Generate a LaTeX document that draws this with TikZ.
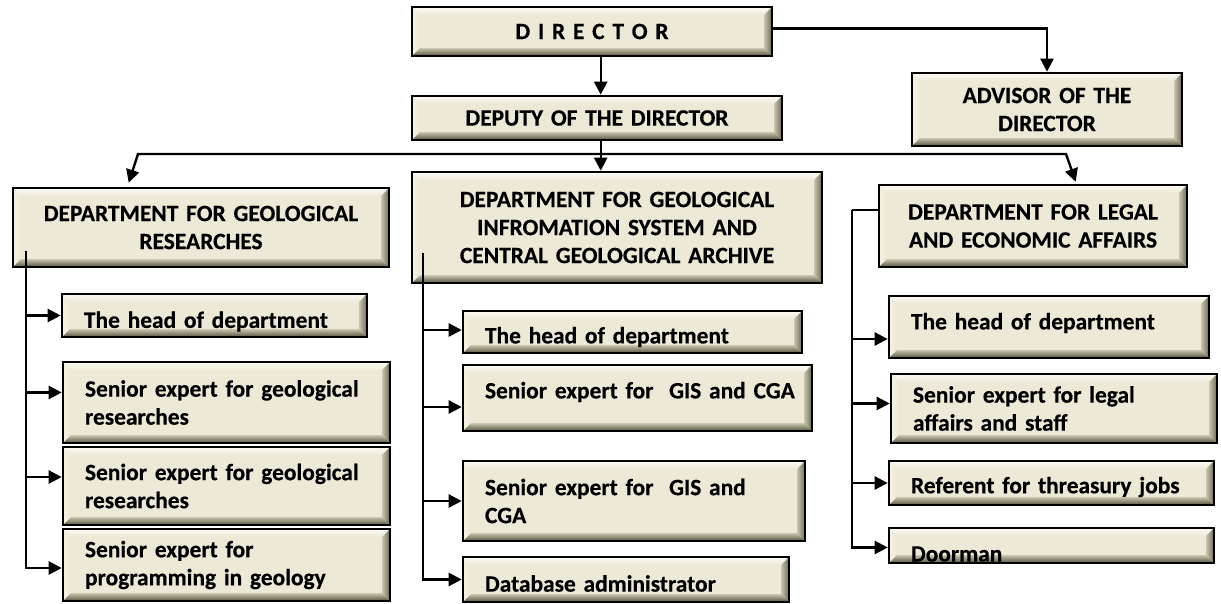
\documentclass[tikz,border=0pt]{standalone}
\usepackage{fontspec}
\setmainfont{Carlito}[BoldFeatures={FakeBold=0.5}]
\usetikzlibrary{arrows.meta,calc}
\definecolor{boxfill}{HTML}{ECE9D6}
\definecolor{bevtop}{HTML}{FDFCF5}
\definecolor{bevleft}{HTML}{F4F2E6}
\definecolor{bevbot}{HTML}{55533F}
\definecolor{bevright}{HTML}{6A6854}
\definecolor{bevmid}{HTML}{C9C6AF}
\newcommand{\bevw}{8pt}
\newcommand{\shiftv}[2]{\raisebox{#1}[\height][\depth]{#2}}
\tikzset{
  bevelbox/.style={draw=black, line width=2.6pt, fill=boxfill, rectangle,
    font=\fontsize{23.4}{28}\selectfont\bfseries,
    path picture={
      \coordinate (pNW) at (path picture bounding box.north west);
      \coordinate (pNE) at (path picture bounding box.north east);
      \coordinate (pSW) at (path picture bounding box.south west);
      \coordinate (pSE) at (path picture bounding box.south east);
      \shade[top color=bevtop, bottom color=boxfill] (pNW) -- (pNE) -- ($(pNE)+(-\bevw,-\bevw)$) -- ($(pNW)+(\bevw,-\bevw)$) -- cycle;
      \shade[left color=bevleft, right color=boxfill] (pNW) -- ($(pNW)+(\bevw,-\bevw)$) -- ($(pSW)+(\bevw,\bevw)$) -- (pSW) -- cycle;
      \shade[bottom color=bevbot, top color=bevmid] (pSW) -- ($(pSW)+(\bevw,\bevw)$) -- ($(pSE)+(-\bevw,\bevw)$) -- (pSE) -- cycle;
      \shade[right color=bevright, left color=bevmid] (pSE) -- ($(pSE)+(-\bevw,\bevw)$) -- ($(pNE)+(-\bevw,-\bevw)$) -- (pNE) -- cycle;
    }},
  headbox/.style={bevelbox, align=center, inner sep=0pt},
  subbox/.style={bevelbox, align=left, inner ysep=0pt, inner xsep=22pt},
  conn/.style={draw=black, line width=2.4pt},
  arr/.style={conn, -{Triangle[length=13pt,width=13pt]}},
  arrtwo/.style={conn, {Triangle[length=13pt,width=13pt]}-{Triangle[length=13pt,width=13pt]}},
}
% \boxat{style}{name}{x1}{y1}{x2}{y2}{text}
\newcommand{\boxat}[7]{%
  \pgfmathsetmacro{\bw}{#5-#3}\pgfmathsetmacro{\bh}{#6-#4}%
  \pgfmathsetmacro{\tw}{#5-#3-44}%
  \node[#1, minimum width=\bw pt, minimum height=\bh pt, text width=\tw pt, anchor=center] (#2) at ({(#3+#5)/2},{(#4+#6)/2}) {#7};}
\begin{document}
\begin{tikzpicture}[x=1pt,y=-1pt]
\useasboundingbox[fill=white] (0,0) rectangle (1221,603);
% top level
\boxat{headbox}{dir}{412}{7}{772}{56}{D I R E C T O R}
\boxat{headbox}{dep}{412}{96}{782}{140}{DEPUTY OF THE DIRECTOR}
\boxat{headbox}{adv}{912}{73}{1182}{146}{ADVISOR OF THE\\DIRECTOR}
% departments
\boxat{headbox}{d1}{13}{188}{389}{267}{DEPARTMENT FOR GEOLOGICAL\\RESEARCHES}
\boxat{headbox}{d2}{412}{172}{822}{283}{DEPARTMENT FOR GEOLOGICAL\\INFROMATION SYSTEM AND\\CENTRAL GEOLOGICAL ARCHIVE}
\boxat{headbox}{d3}{879}{185}{1187}{267}{DEPARTMENT FOR LEGAL\\AND ECONOMIC AFFAIRS}
% left column
\boxat{subbox}{l1}{62}{294}{367}{337}{\shiftv{-6pt}{The head of department}}
\boxat{subbox}{l2}{63}{362}{390}{443}{\mbox{Senior expert for geological}\\researches}
\boxat{subbox}{l3}{63}{447}{390}{525}{\mbox{Senior expert for geological}\\researches}
\boxat{subbox}{l4}{63}{529}{390}{601}{Senior expert for\\\mbox{programming in geology}}
% middle column
\boxat{subbox}{m1}{463}{311}{802}{353}{\shiftv{-5pt}{The head of department}}
\boxat{subbox}{m2}{463}{365}{812}{431}{\shiftv{6pt}{Senior expert for \ GIS and CGA}}
\boxat{subbox}{m3}{463}{461}{805}{541}{\mbox{Senior expert for \ GIS and}\\CGA}
\boxat{subbox}{m4}{463}{557}{789}{602}{\shiftv{-4pt}{Database administrator}}
% right column
\boxat{subbox}{r1}{889}{296}{1209}{358}{\shiftv{4pt}{The head of department}}
\boxat{subbox}{r2}{891}{374}{1217}{443}{\mbox{Senior expert for legal}\\affairs and staff}
\boxat{subbox}{r3}{889}{461}{1214}{505}{\shiftv{-4pt}{Referent for threasury jobs}}
\boxat{subbox}{r4}{889}{528}{1214}{563}{\raisebox{-16pt}[0pt][0pt]{Doorman}}
% connectors top
\draw[arr] ([xshift=190pt]dir.south west) -- ([xshift=190pt]dep.north west);
\draw[arr] ([yshift=3pt]dir.east) -| (adv.north);
\draw[arr] ([xshift=190pt]dep.south west) -- ([xshift=190pt]d2.north west);
\coordinate (busL) at (138,154);
\coordinate (busR) at (1066,154);
\draw[arrtwo] ([xshift=117pt,yshift=4pt]d1.north west) -- (busL) -- (busR) -- ([xshift=198pt,yshift=2pt]d3.north west);
% left trunk
\coordinate (t1) at (26,251);
\draw[arr] (t1) |- (l1.west);
\draw[arr] (t1) |- ([yshift=10pt]l2.west);
\draw[arr] (t1) |- ([yshift=9pt]l3.west);
\draw[arr] (t1) |- ([yshift=-3pt]l4.west);
% middle trunk
\coordinate (t2) at (423,253);
\draw[arr] (t2) |- ([yshift=2pt]m1.west);
\draw[arr] (t2) |- ([yshift=-9pt]m2.west);
\draw[arr] (t2) |- (m3.west);
\draw[arr] (t2) |- (m4.west);
% right trunk
\coordinate (t3) at (852,210);
\draw[conn] ([yshift=16pt]d3.west) -- (t3);
\draw[arr] (t3) |- ([yshift=-12pt]r1.west);
\draw[arr] (t3) |- ([yshift=5pt]r2.west);
\draw[arr] (t3) |- (r3.west);
\draw[arr] (t3) |- ([yshift=-2pt]r4.west);
\end{tikzpicture}
\end{document}
